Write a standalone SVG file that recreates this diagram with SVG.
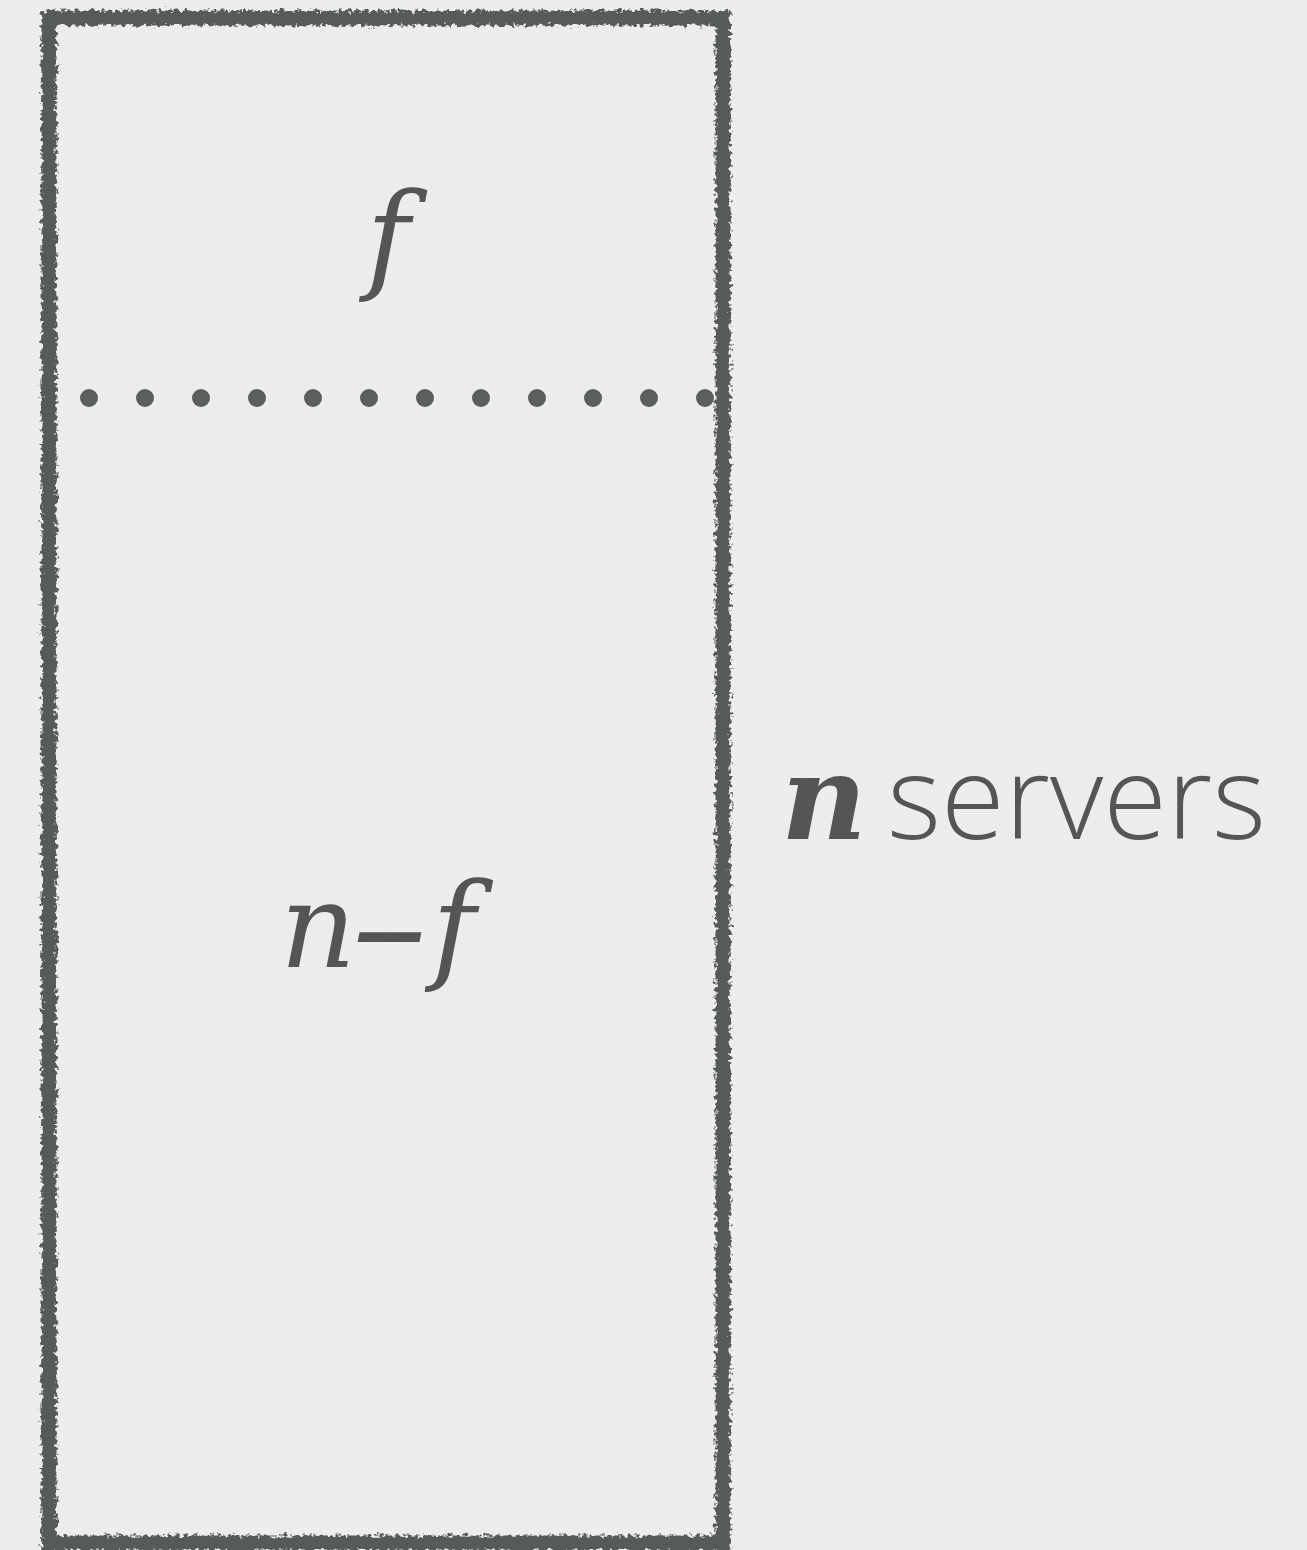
<svg xmlns="http://www.w3.org/2000/svg" width="1307" height="1550" viewBox="0 0 1307 1550">
<defs>
<filter id="rough" x="-5%" y="-5%" width="110%" height="110%">
<feTurbulence type="fractalNoise" baseFrequency="0.25 0.25" numOctaves="3" seed="3" result="n"/>
<feDisplacementMap in="SourceGraphic" in2="n" scale="10" xChannelSelector="R" yChannelSelector="G"/>
</filter>
<filter id="grain" x="0" y="0" width="100%" height="100%">
<feTurbulence type="fractalNoise" baseFrequency="0.9" numOctaves="2" seed="7" result="t"/>
<feColorMatrix in="t" type="matrix" values="0 0 0 0 0.5  0 0 0 0 0.5  0 0 0 0 0.5  0 0 0 0.10 0"/>
</filter>
<style>
.box{fill:none;stroke:#565a58;stroke-width:15}
.dot{fill:#5a5e5c}
.math{font-family:"DejaVu Serif",serif;font-style:italic;fill:#555;font-size:118px}
.lbl{font-family:"Open Sans","Lato",sans-serif;font-weight:300;fill:#555;font-size:116px}
</style>
</defs>
<rect width="1307" height="1550" fill="#efefef"/>
<rect width="1307" height="1550" filter="url(#grain)"/>
<g id="box">
<rect class="box" x="49" y="18" width="674" height="1525" filter="url(#rough)"/>
</g>
<g id="connectors">
<g id="divider">
<circle class="dot" cx="89" cy="398" r="9"/>
<circle class="dot" cx="145" cy="398" r="9"/>
<circle class="dot" cx="201" cy="398" r="9"/>
<circle class="dot" cx="257" cy="398" r="9"/>
<circle class="dot" cx="313" cy="398" r="9"/>
<circle class="dot" cx="369" cy="398" r="9"/>
<circle class="dot" cx="425" cy="398" r="9"/>
<circle class="dot" cx="481" cy="398" r="9"/>
<circle class="dot" cx="537" cy="398" r="9"/>
<circle class="dot" cx="593" cy="398" r="9"/>
<circle class="dot" cx="649" cy="398" r="9"/>
<circle class="dot" cx="705" cy="398" r="9"/>
</g>
</g>
<g id="faulty">
<text class="math" x="388" y="277" text-anchor="middle">f</text>
</g>
<g id="correct">
<text class="math" x="280" y="967">n<tspan x="352" dy="10" font-size="150px">–</tspan><tspan x="432" dy="-10">f</tspan></text>
</g>
<g id="servers">
<text x="781" y="839"><tspan class="math" font-weight="bold" font-size="110px">n</tspan><tspan class="lbl" x="887">servers</tspan></text>
</g>
</svg>
